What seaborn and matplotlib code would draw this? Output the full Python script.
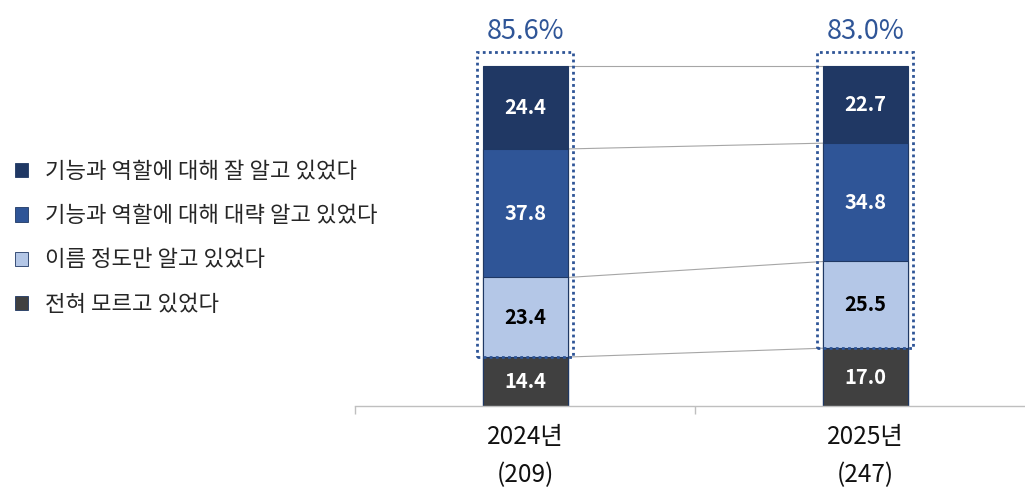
import matplotlib
matplotlib.use("Agg")
import matplotlib.pyplot as plt
from matplotlib.patches import Rectangle, Patch
import numpy as np
import pandas as pd
import seaborn as sns

years = ["2024년\n(209)", "2025년\n(247)"]
series_names = ["기능과 역할에 대해 잘 알고 있었다",
                "기능과 역할에 대해 대략 알고 있었다",
                "이름 정도만 알고 있었다",
                "전혀 모르고 있었다"]
well_known = [24.4, 22.7]
roughly_known = [37.8, 34.8]
name_only = [23.4, 25.5]
not_known = [14.4, 17.0]
aware_total = ["85.6%", "83.0%"]

colors = ["#203864", "#2F5597", "#B4C7E7", "#404040"]
text_colors = ["white", "white", "black", "white"]
accent = "#2F5597"

sns.set_theme(style="white")
plt.rcParams["font.family"] = ["Noto Sans CJK KR", "DejaVu Sans"]

# stacking order bottom -> top
stack = [not_known, name_only, roughly_known, well_known]
stack_colors = [colors[3], colors[2], colors[1], colors[0]]
stack_text = [text_colors[3], text_colors[2], text_colors[1], text_colors[0]]
cum = np.cumsum(np.array(stack), axis=0)  # shape (4, 2)

fig = plt.figure(figsize=(10.25, 4.88), dpi=100)
ax = fig.add_axes([0.3463, 0.168, 0.654, 0.832])

bar_w = 0.25
# draw tallest first so lower segments sit on top
for i in range(3, -1, -1):
    df = pd.DataFrame({"year": years, "value": cum[i]})
    sns.barplot(data=df, x="year", y="value", color=stack_colors[i],
                width=bar_w, edgecolor="#1F3864", linewidth=0.8,
                saturation=1, ax=ax, zorder=2)

# segment labels
for i in range(4):
    lower = cum[i - 1] if i > 0 else np.zeros(2)
    for j in range(2):
        ax.text(j, lower[j] + stack[i][j] / 2, f"{stack[i][j]:.1f}",
                ha="center", va="center", fontsize=14.5, fontweight="bold",
                color=stack_text[i], zorder=4)

# connector lines between boundaries
for i in range(4):
    ax.plot([bar_w / 2, 1 - bar_w / 2], [cum[i][0], cum[i][1]],
            color="#A6A6A6", lw=0.8, zorder=1)

# dotted boxes around the "aware" part + totals
pad_x = 0.016
for j in range(2):
    y0 = cum[0][j]
    y1 = 104.1
    rect = Rectangle((j - bar_w / 2 - pad_x, y0), bar_w + 2 * pad_x, y1 - y0,
                     fill=False, edgecolor=accent, linestyle=(0, (1, 1.2)),
                     linewidth=2, zorder=5, clip_on=False)
    ax.add_patch(rect)
    ax.text(j, 110.0, aware_total[j], ha="center", va="center",
            fontsize=19.5, color=accent)

ax.set_xlim(-0.5, 1.47)
ax.set_ylim(0, 119.4)
ax.set_xlabel("")
ax.set_ylabel("")
ax.set_yticks([])
for s in ["top", "right", "left"]:
    ax.spines[s].set_visible(False)
ax.spines["bottom"].set_color("#BFBFBF")
ax.spines["bottom"].set_linewidth(1)

ax.set_xticks([0, 1])
ax.set_xticklabels(years, fontsize=17.5, linespacing=1.6)
ax.tick_params(axis="x", which="major", length=0, pad=13, colors="#111111")
ax.set_xticks([-0.5, 0.5], minor=True)
ax.tick_params(axis="x", which="minor", length=6, width=1, color="#BFBFBF",
               direction="out", bottom=True)

handles = [Patch(facecolor=c, edgecolor="#1F3864", linewidth=0.6) for c in colors]
fig.legend(handles, series_names, loc="upper left",
           bbox_to_anchor=(0.006, 0.69), frameon=False, fontsize=16,
           handlelength=0.6, handleheight=0.6, handletextpad=0.75,
           labelspacing=0.95, borderaxespad=0)

fig.savefig("out.png", dpi=100)
